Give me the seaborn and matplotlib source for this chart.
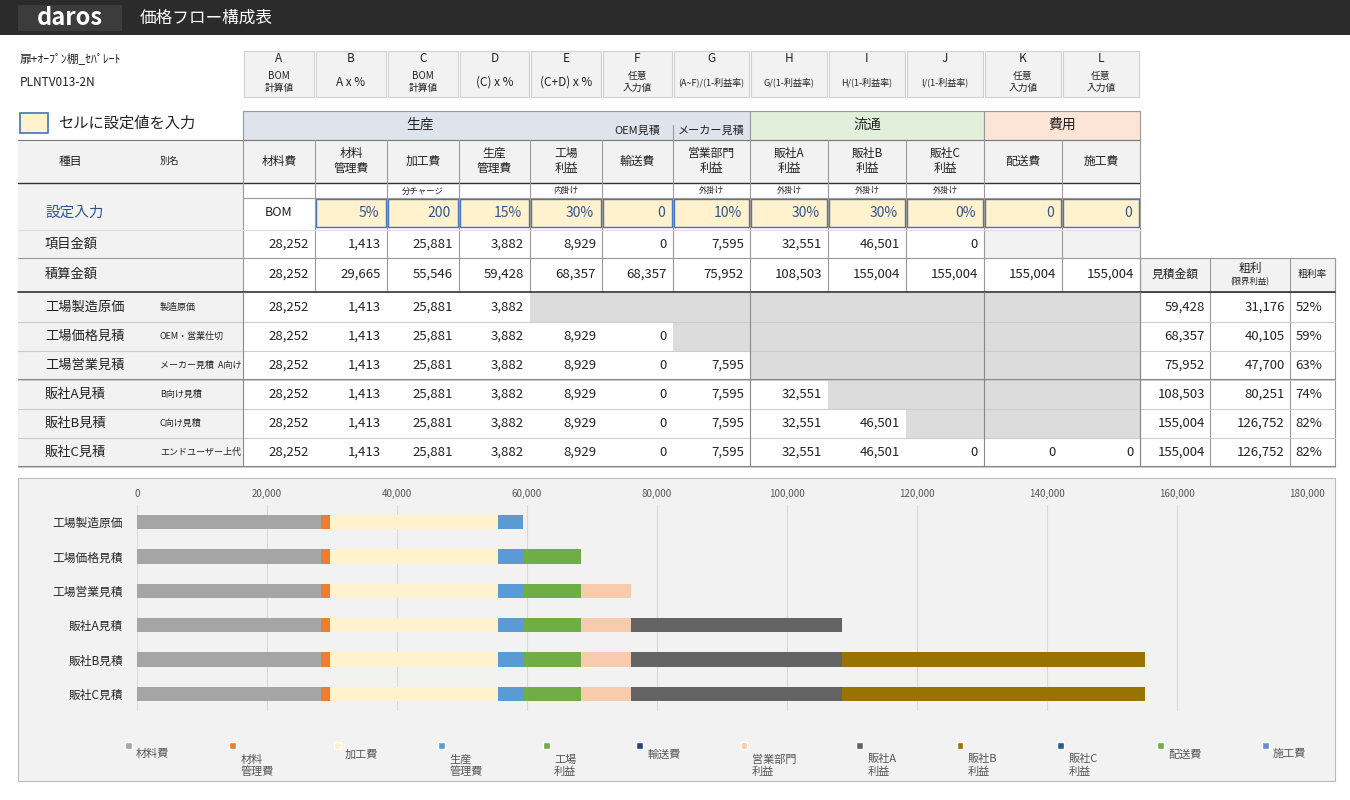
import matplotlib
matplotlib.use("Agg")
import matplotlib.pyplot as plt
from matplotlib.patches import Rectangle
import numpy as np
import pandas as pd
import seaborn as sns

sns.set_theme(style="white")
plt.rcParams['font.family'] = ['Noto Sans CJK JP', 'DejaVu Sans']

# ---------------- data ----------------
letters = ["A","B","C","D","E","F","G","H","I","J","K","L"]
formulas = ["BOM\n計算値","A x %","BOM\n計算値","(C) x %","(C+D) x %","任意\n入力値",
            "(A~F)/(1-利益率)","G/(1-利益率)","H/(1-利益率)","I/(1-利益率)","任意\n入力値","任意\n入力値"]
components = ["材料費","材料\n管理費","加工費","生産\n管理費","工場\n利益","輸送費",
              "営業部門\n利益","販社A\n利益","販社B\n利益","販社C\n利益","配送費","施工費"]
sub_labels = ["","","分チャージ","","内掛け","","外掛け","外掛け","外掛け","外掛け","",""]
inputs = ["5%","200","15%","30%","0","10%","30%","30%","0%","0","0"]
item_amounts = [28252,1413,25881,3882,8929,0,7595,32551,46501,0]
cumulative = [28252,29665,55546,59428,68357,68357,75952,108503,155004,155004,155004,155004]
estimates = ["工場製造原価","工場価格見積","工場営業見積","販社A見積","販社B見積","販社C見積"]
aliases = ["製造原価","OEM・営業仕切","メーカー見積  A向け","B向け見積","C向け見積","エンドユーザー上代"]
n_components_used = [4,6,7,8,9,12]
quote = [59428,68357,75952,108503,155004,155004]
gross = [31176,40105,47700,80251,126752,126752]
margin = ["52%","59%","63%","74%","82%","82%"]
comp_values = [28252,1413,25881,3882,8929,0,7595,32551,46501,0,0,0]
colors = ["#a5a5a5","#ed7d31","#fff2cc","#5b9bd5","#70ad47","#264478",
          "#f8cbad","#636363","#997300","#255e91","#70ad47","#698ed0"]

W, H = 1350, 800
fig = plt.figure(figsize=(13.5, 8), dpi=100)
fig.patch.set_facecolor("white")

def rect(x0, y0, x1, y1, fc="none", ec="none", lw=0.8, z=1):
    fig.add_artist(Rectangle((x0/W, 1-y1/H), (x1-x0)/W, (y1-y0)/H, facecolor=fc,
                             edgecolor=ec, linewidth=lw, transform=fig.transFigure, zorder=z))

def txt(x, y, s, size=9, ha="center", color="#222222", weight="normal", z=5, va="center", **kw):
    fig.text(x/W, 1-y/H, s, fontsize=size, ha=ha, va=va, color=color,
             weight=weight, zorder=z, linespacing=1.2, **kw)

def hline(x0, x1, y, color="#999999", lw=0.8):
    fig.add_artist(plt.Line2D([x0/W, x1/W], [1-y/H, 1-y/H], color=color, lw=lw,
                              transform=fig.transFigure, zorder=4))

def vline(x, y0, y1, color="#999999", lw=0.8):
    fig.add_artist(plt.Line2D([x/W, x/W], [1-y0/H, 1-y1/H], color=color, lw=lw,
                              transform=fig.transFigure, zorder=4))

# header bar
rect(0, 0, 1350, 35, fc="#2b2b2b")
rect(18, 5, 122, 31, fc="#3c3c3c")
txt(70, 18, "daros", size=17, color="white", weight="bold")
txt(140, 18, "価格フロー構成表", size=12, color="white", ha="left")

txt(20, 59, "扉+ｵｰﾌﾟﾝ棚_ｾﾊﾟﾚｰﾄ", size=8.5, ha="left")
txt(20, 82, "PLNTV013-2N", size=8.5, ha="left")

xs = [243,315,387,459,530,602,673,750,828,906,984,1062,1140]
cx = [(xs[i]+xs[i+1])/2 for i in range(12)]

for i in range(12):
    rect(xs[i]+1, 51, xs[i+1]-1, 97, fc="#f2f2f2", ec="#d0d0d0")
    txt(cx[i], 59, letters[i], size=8.5)
    small = 6.5 if "利益率" in formulas[i] else (7 if "\n" in formulas[i] else 8.5)
    txt(cx[i], 82, formulas[i], size=small)

rect(20, 113, 48, 133, fc="#fff2cc", ec="#4472c4", lw=1.2)
txt(58, 123, "セルに設定値を入力", size=11, ha="left")

rect(243, 111, 750, 140, fc="#dfe3ec", ec="#999999")
rect(750, 111, 984, 140, fc="#e2efda", ec="#999999")
rect(984, 111, 1140, 140, fc="#fce4d6", ec="#999999")
txt(420, 125, "生産", size=10)
txt(637, 131, "OEM見積", size=8)
txt(711, 131, "メーカー見積", size=8)
txt(867, 125, "流通", size=10)
txt(1062, 125, "費用", size=10)
vline(673, 125, 140)

rect(18, 140, 243, 292, fc="#f2f2f2")
rect(243, 140, 1140, 183, fc="#f2f2f2")
hline(18, 1140, 140, color="#777777")
hline(18, 1140, 183, color="#333333", lw=1.0)
txt(70, 161, "種目", size=8.5)
txt(160, 161, "別名", size=7, ha="left")
for i in range(12):
    txt(cx[i], 161, components[i], size=8.5)
for x in xs:
    vline(x, 140, 292)
for i in range(12):
    if sub_labels[i]:
        txt(cx[i], 191, sub_labels[i], size=6)
hline(243, 1140, 198, color="#999999")

txt(75, 213, "設定入力", size=10.5, color="#2f5597")
txt(cx[0], 213, "BOM", size=9)
for i, v in enumerate(inputs):
    rect(xs[i+1]+1, 199, xs[i+2]-1, 227, fc="#fff2cc", ec="#4472c4", lw=1.0)
    txt(xs[i+2]-8, 213, v, size=10, ha="right", color="#2f5597")

txt(45, 244, "項目金額", size=9.5, ha="left")
for i, v in enumerate(item_amounts):
    txt(xs[i+1]-6, 244, f"{v:,}", size=9.5, ha="right")
rect(984, 230, 1140, 258, fc="#f2f2f2")
hline(18, 1140, 258, color="#999999")
hline(18, 1140, 230, color="#dddddd")

txt(45, 274, "積算金額", size=9.5, ha="left")
for i, v in enumerate(cumulative):
    txt(xs[i+1]-6, 274, f"{v:,}", size=9.5, ha="right")

rx = [1140, 1210, 1290, 1335]
rect(1140, 258, 1335, 292, fc="#f2f2f2", ec="#999999")
for x in rx:
    vline(x, 258, 466)
txt(1175, 274, "見積金額", size=8.5)
txt(1250, 268, "粗利", size=8.5)
txt(1250, 282, "(限界利益)", size=6)
txt(1312, 274, "粗利率", size=7)
hline(18, 1335, 292, color="#333333", lw=1.2)

for r in range(6):
    y0 = 293 + r*29
    y1 = y0 + 29
    yc = (y0+y1)/2
    rect(18, y0, 243, y1, fc="#f2f2f2")
    txt(45, yc, estimates[r], size=9.5, ha="left")
    txt(160, yc, aliases[r], size=6.5, ha="left")
    n = n_components_used[r]
    for i in range(n):
        txt(xs[i+1]-6, yc, f"{comp_values[i]:,}", size=9.5, ha="right")
    if n < 12:
        rect(xs[n], y0, 1140, y1, fc="#dcdcdc")
    txt(1205, yc, f"{quote[r]:,}", size=9.5, ha="right")
    txt(1285, yc, f"{gross[r]:,}", size=9.5, ha="right")
    txt(1322, yc, margin[r], size=9.5, ha="right")
    hline(18, 1335, y1, color="#cccccc")
for x in [243, 750, 984, 1140]:
    vline(x, 292, 466, color="#888888")
hline(18, 1335, 379, color="#888888")
hline(18, 1335, 466, color="#888888")

# ---------------- chart ----------------
rect(18, 478, 1335, 781, fc="#f2f2f2", ec="#bbbbbb", z=0)
ax = fig.add_axes([137/W, 1-711/H, 1170/W, 206/H])
ax.set_facecolor("none")

rows = []
for r, est in enumerate(estimates):
    vals = comp_values[:n_components_used[r]] + [0]*(12-n_components_used[r])
    cs = np.cumsum(vals)
    for k in range(12):
        rows.append({"estimate": est, "comp": k, "cum": cs[k]})
df = pd.DataFrame(rows)
for k in range(11, -1, -1):
    sub = df[df["comp"] == k]
    sns.barplot(data=sub, x="cum", y="estimate", order=estimates, color=colors[k],
                orient="h", width=0.42, ax=ax, saturation=1, edgecolor="none", zorder=3)

ax.set_xlim(0, 180000)
ax.set_ylim(5.5, -0.5)
ax.set_xticks(np.arange(0, 180001, 20000))
ax.xaxis.tick_top()
ax.set_xticklabels([f"{v:,}" for v in range(0, 180001, 20000)], fontsize=7, color="#555555")
ax.tick_params(axis="x", length=0, pad=4)
ax.tick_params(axis="y", length=0, labelsize=8.5, pad=10)
ax.set_xlabel("")
ax.set_ylabel("")
ax.grid(axis="x", color="#d9d9d9", lw=0.8, zorder=0)
for s in ax.spines.values():
    s.set_visible(False)

handles = [Rectangle((0, 0), 1, 1, fc=c) for c in colors]
leg = fig.legend(handles, components, loc="upper left", bbox_to_anchor=(115/W, 1-724/H),
                 ncol=12, frameon=False, fontsize=8, handlelength=0.6, handleheight=0.6,
                 columnspacing=5.4, handletextpad=0.4, labelcolor="#555555")
for t in leg.get_texts():
    t.set_verticalalignment("top")

fig.savefig("out.png", dpi=100)
